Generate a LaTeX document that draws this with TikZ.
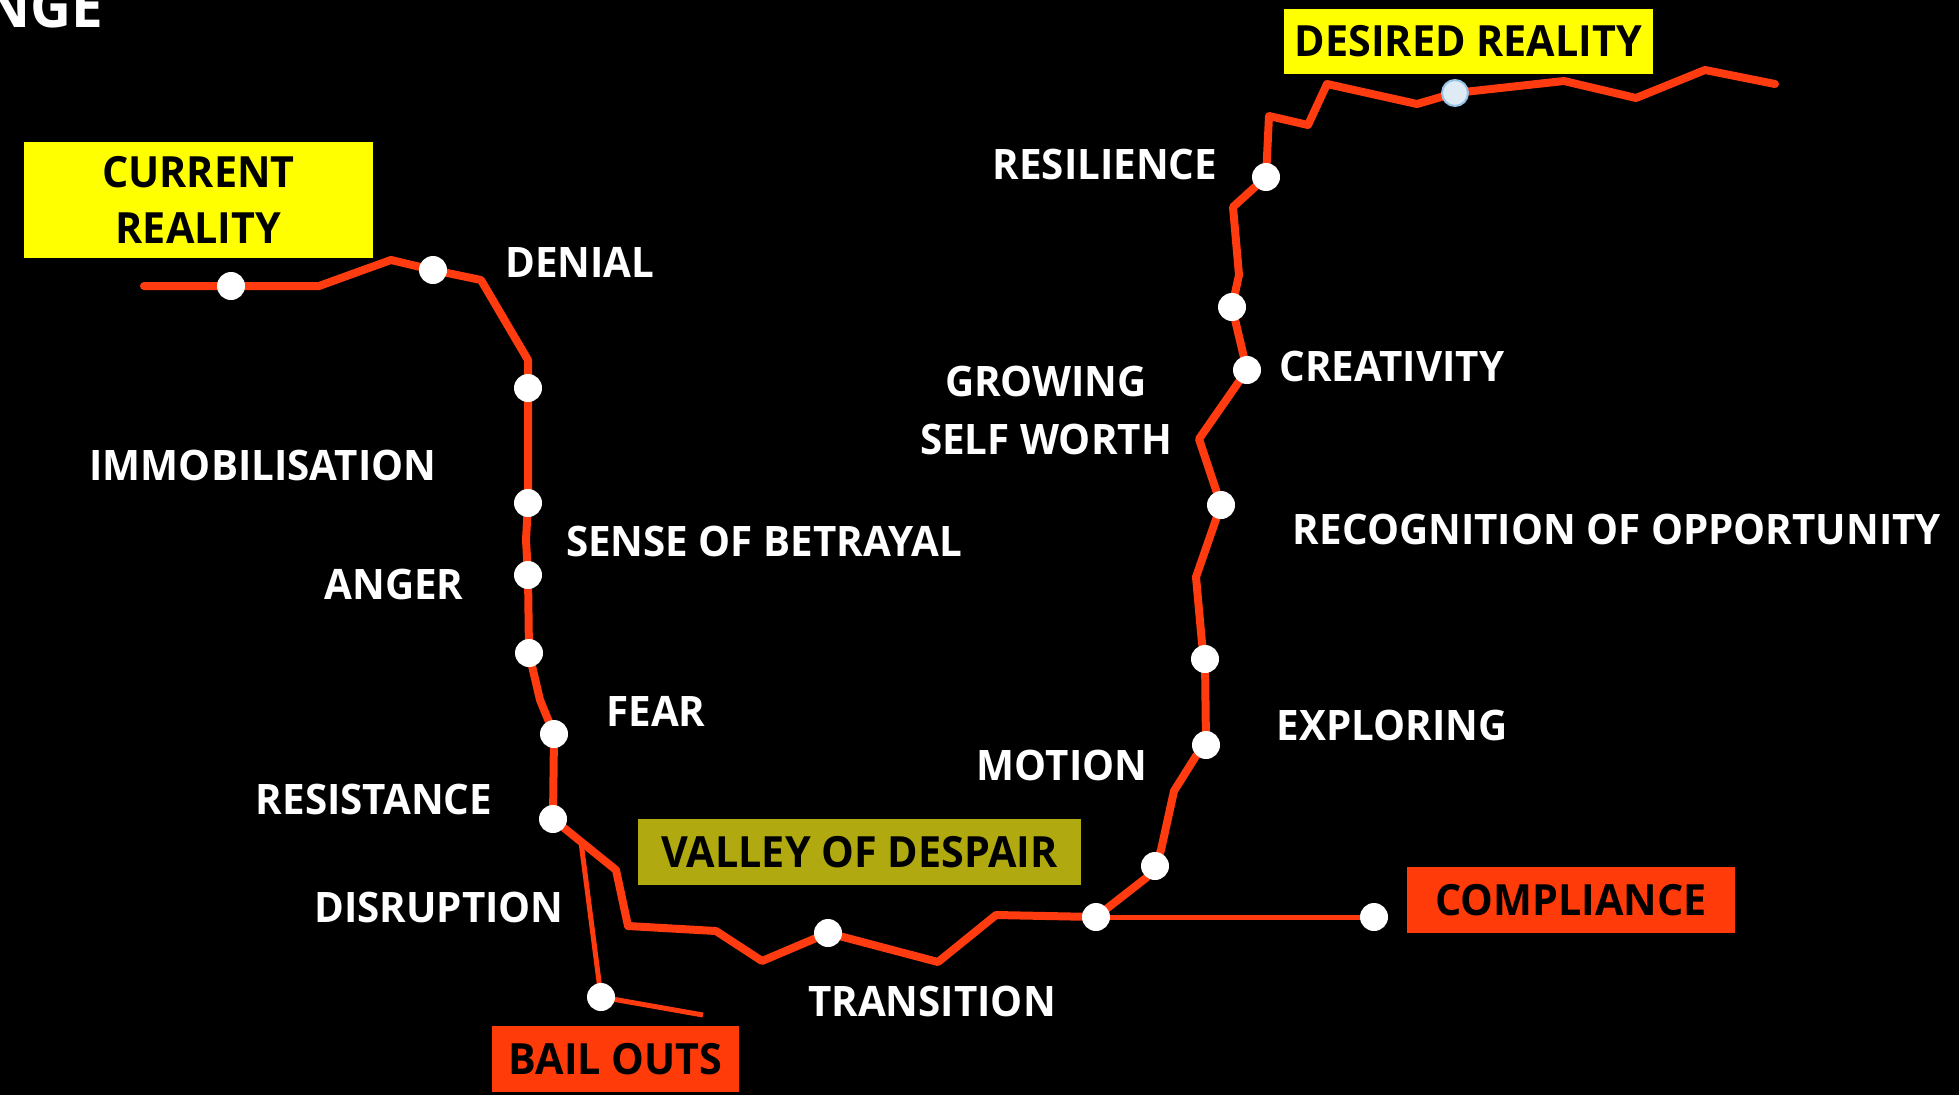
\documentclass[tikz,border=0pt]{standalone}
\usepackage{fontspec}
\setmainfont{Open Sans}
\newfontfamily\lblfont{Open Sans}[FakeStretch=0.96]
\definecolor{routecol}{RGB}{255,59,15}
\definecolor{boxyellow}{RGB}{255,255,0}
\definecolor{boxolive}{RGB}{176,170,16}
\definecolor{boxred}{RGB}{255,59,10}
\definecolor{dotblue}{RGB}{222,234,244}
\definecolor{dotedge}{RGB}{150,195,230}
\begin{document}
\begin{tikzpicture}[x=1pt,y=-1pt,
  route/.style={draw=routecol, line width=8pt, line join=round, line cap=round},
  branch/.style={draw=routecol, line width=5pt, line join=round},
  dot/.style={circle, fill=white, inner sep=0pt, minimum size=28pt},
  lbl/.style={text=white, font=\lblfont\fontsize{42}{50}\selectfont\bfseries, inner sep=0pt, anchor=base},
  boxlbl/.style={inner sep=0pt, font=\lblfont\fontsize{43}{56}\selectfont\bfseries, text=black, align=center}]
\useasboundingbox (0,0) rectangle (1959,1095);
\clip (0,0) rectangle (1959,1095);
\fill[black] (0,0) rectangle (1959,1095);

% title fragment
\node[text=white, font=\lblfont\fontsize{59}{60}\selectfont\bfseries, inner sep=0pt, anchor=base east] (title) at (103,27) {NGE};

% coordinates of the route
\coordinate (c0) at (144,286);
\coordinate (pcur) at (231,286);
\coordinate (c1) at (319,286);
\coordinate (c2) at (391,260);
\coordinate (pden) at (433,270);
\coordinate (c3) at (481,280);
\coordinate (c4) at (528,360);
\coordinate (pimm) at (528,388);
\coordinate (psob) at (528,503);
\coordinate (c5) at (526,540);
\coordinate (pang) at (528,575);
\coordinate (pang2) at (529,653);
\coordinate (c6) at (540,700);
\coordinate (pfear) at (554,734);
\coordinate (pres) at (553,819);
\coordinate (c7) at (616,870);
\coordinate (c8) at (628,926);
\coordinate (c9) at (716,931);
\coordinate (c10) at (762,961);
\coordinate (ptr) at (828,933);
\coordinate (c11) at (938,962);
\coordinate (c12) at (996,915);
\coordinate (pmot) at (1096,917);
\coordinate (c13) at (1146,878);
\coordinate (pm2) at (1155,866);
\coordinate (c14) at (1161,850);
\coordinate (c15) at (1174,791);
\coordinate (c16) at (1196,756);
\coordinate (pexp) at (1206,745);
\coordinate (pexp2) at (1205,659);
\coordinate (c17) at (1202,643);
\coordinate (c18) at (1196,577);
\coordinate (prec) at (1221,505);
\coordinate (c20) at (1199,439);
\coordinate (pcre) at (1247,370);
\coordinate (pgsw) at (1232,307);
\coordinate (c21) at (1239,275);
\coordinate (c22) at (1233,207);
\coordinate (presil) at (1266,177);
\coordinate (c23) at (1269,116);
\coordinate (c24) at (1308,125);
\coordinate (c25) at (1327,84);
\coordinate (c26) at (1417,104);
\coordinate (pdes) at (1455,93);
\coordinate (c27) at (1564,81);
\coordinate (c28) at (1636,98);
\coordinate (c29) at (1705,70);
\coordinate (c30) at (1775,84);
\coordinate (b0) at (581,842);
\coordinate (pbail) at (601,997);
\coordinate (b1) at (703,1015);
\coordinate (pcomp) at (1374,917);

% branches
\draw[branch] (b0) -- (pbail) -- (b1);
\draw[branch] (pmot) -- (pcomp);

% main route
\draw[route] (c0) -- (pcur) -- (c1) -- (c2) -- (pden) -- (c3) -- (c4) -- (pimm) -- (psob)
  -- (c5) -- (pang) -- (pang2) -- (c6) -- (pfear) -- (pres) -- (c7) -- (c8) -- (c9) -- (c10)
  -- (ptr) -- (c11) -- (c12) -- (pmot) -- (c13) -- (pm2) -- (c14) -- (c15) -- (c16) -- (pexp)
  -- (pexp2) -- (c17) -- (c18) -- (prec) -- (c20) -- (pcre) -- (pgsw) -- (c21) -- (c22)
  -- (presil) -- (c23) -- (c24) -- (c25) -- (c26) -- (pdes) -- (c27) -- (c28) -- (c29) -- (c30);

% dots
\foreach \p in {pcur,pden,pimm,psob,pang,pang2,pfear,pres,ptr,pmot,pm2,pexp,pexp2,prec,pcre,pgsw,presil,pbail,pcomp}
  \node[dot] (d\p) at (\p) {};
\node[dot, fill=dotblue, draw=dotedge, line width=2pt, minimum size=26pt] (dpdes) at (pdes) {};

% boxes
\node[boxlbl, fill=boxyellow, minimum width=349pt, minimum height=116pt] (current) at (198.5,200) {CURRENT\\REALITY};
\node[boxlbl, fill=boxyellow, minimum width=369pt, minimum height=65pt] (desired) at (1468.5,41.5) {DESIRED REALITY};
\node[boxlbl, fill=boxolive, minimum width=443pt, minimum height=66pt] (valley) at (859.5,852) {VALLEY OF DESPAIR};
\node[boxlbl, fill=boxred, minimum width=328pt, minimum height=66pt] (compliance) at (1571,900) {COMPLIANCE};
\node[boxlbl, fill=boxred, minimum width=247pt, minimum height=66pt] (bailouts) at (615.5,1059) {BAIL OUTS};

% labels
\node[lbl] (denial) at (580,277) {DENIAL};
\node[lbl] (immob) at (263,480) {IMMOBILISATION};
\node[lbl] (betrayal) at (764,556) {SENSE OF BETRAYAL};
\node[lbl] (anger) at (394,599) {ANGER};
\node[lbl] (fear) at (656,726) {FEAR};
\node[lbl] (resistance) at (374,814) {RESISTANCE};
\node[lbl] (disruption) at (439,922) {DISRUPTION};
\node[lbl] (transition) at (932,1016) {TRANSITION};
\node[lbl] (motion) at (1062,780) {MOTION};
\node[lbl] (exploring) at (1392,740) {EXPLORING};
\node[lbl] (recog) at (1617,544) {RECOGNITION OF OPPORTUNITY};
\node[lbl] (growing) at (1046,396) {GROWING};
\node[lbl] (selfworth) at (1046,454) {SELF WORTH};
\node[lbl] (creativity) at (1392,381) {CREATIVITY};
\node[lbl] (resilience) at (1105,179) {RESILIENCE};
\end{tikzpicture}
\end{document}
